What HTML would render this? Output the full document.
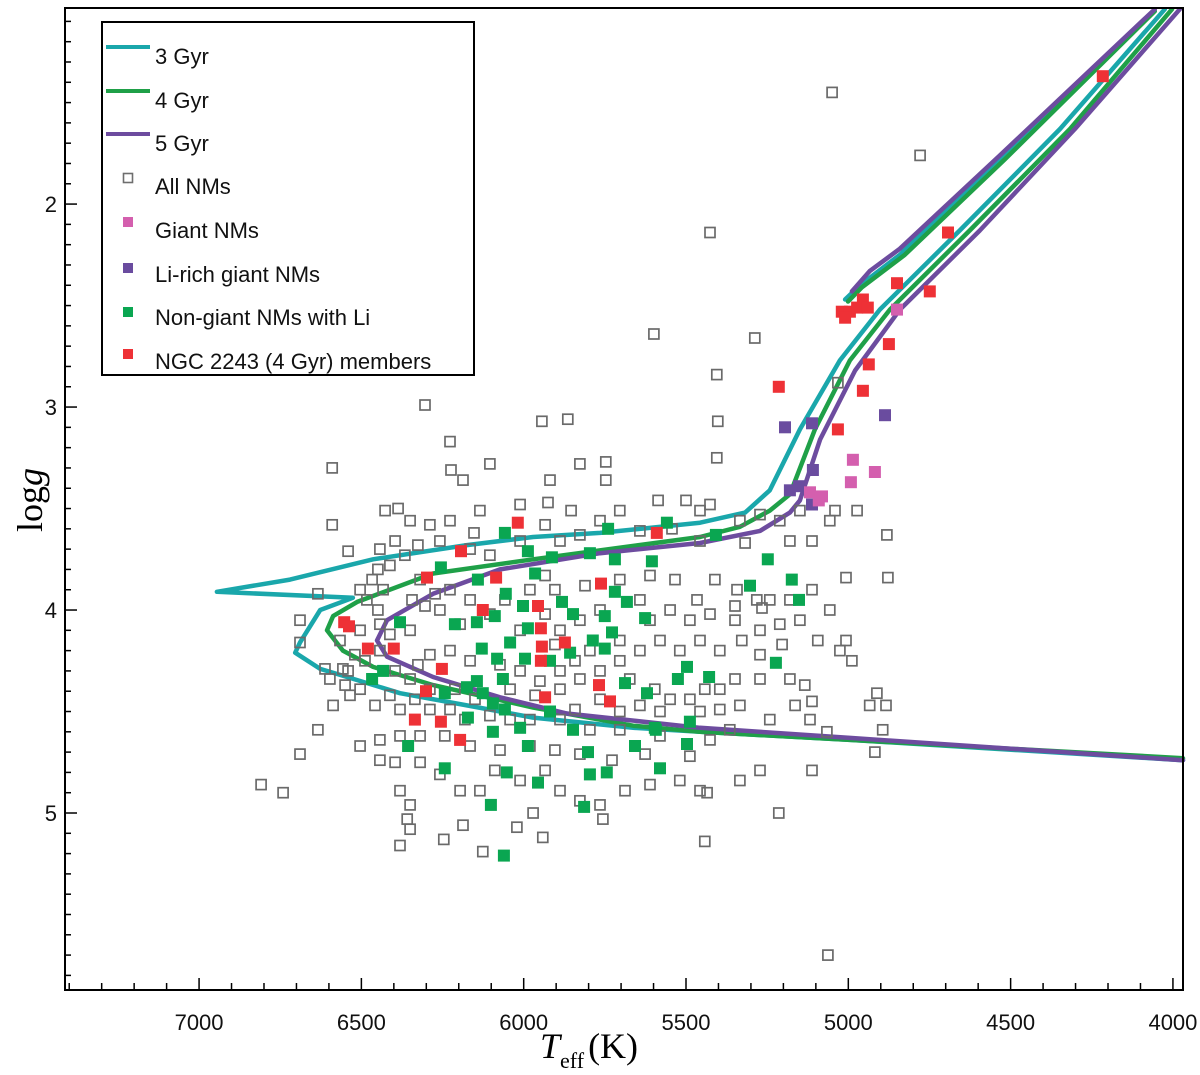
<!DOCTYPE html>
<html><head><meta charset="utf-8"><style>
html,body{margin:0;padding:0;background:#fff;}
svg{display:block;font-family:"Liberation Sans",sans-serif;}
</style></head><body>
<svg id="chart" width="1200" height="1075" viewBox="0 0 1200 1075" xmlns="http://www.w3.org/2000/svg"></svg>
<script>
// ---- data ----
const xTicks=[7000,6500,6000,5500,5000,4500,4000];
const yTicks=[2,3,4,5];
const allT=[5050,4779,5426,5599,5288,5405,5032,6304,5402,6227,5944,5864,6104,5827,5747,5405,6590,6224,6187,5919,5747,5586,5500,6590,6427,6387,6350,6289,6227,6135,6011,5925,5854,5765,5704,5457,5426,5334,5272,5211,5149,5041,5057,4881,6541,6443,6396,6326,6258,6153,5888,5827,5642,5543,5457,5180,5112,5318,4878,5007,6449,6412,6366,6467,6433,6504,6165,6104,6011,5934,6634,6689,6483,6449,6344,6304,6227,6165,6258,5934,5904,5811,5704,5611,5534,5411,5343,5282,5349,5466,5266,5112,5057,5007,5026,4989,5094,6689,6566,6443,6412,6350,6196,6104,6011,5934,5888,5827,5765,5642,5549,5488,5426,5349,5272,5211,5149,5396,5328,5272,5204,5457,5519,5580,5642,5704,5842,5888,5950,6011,6073,6165,6227,6289,6326,6396,6443,6520,6557,6612,6597,6550,6504,6458,6412,6381,6335,6289,6212,6150,6042,5965,5888,5827,5765,5673,5596,5549,5488,5442,5396,5349,5272,5180,5134,5112,5164,5334,5396,5457,5580,5642,5704,5765,5842,5888,5981,6042,6104,6181,6243,6319,6381,6443,6504,6443,6396,6319,6258,6196,6135,6089,6011,5934,5888,5827,5765,5688,5611,5519,5457,5334,5272,5112,4894,4884,4912,4934,5118,5242,5365,5426,5488,5626,5728,5827,5904,5981,6073,6165,6381,6350,6359,6350,6381,6246,6187,6021,5971,6126,5941,5756,5435,5442,5214,6809,6741,6689,6634,6587,6541,5063,5066,4918,4973,6319,6273,6058,5981,5704,5796,5904,5611,6504,6489,6350,6535,6289,6227,5796,5704,5580,5242,5180];
const allG=[1.45,1.76,2.14,2.64,2.66,2.84,2.88,2.99,3.07,3.17,3.07,3.06,3.28,3.28,3.27,3.25,3.30,3.31,3.36,3.36,3.36,3.46,3.46,3.58,3.51,3.50,3.56,3.58,3.56,3.51,3.48,3.47,3.51,3.56,3.51,3.51,3.48,3.56,3.53,3.56,3.51,3.51,3.56,3.63,3.71,3.70,3.66,3.68,3.66,3.62,3.66,3.63,3.61,3.60,3.66,3.66,3.66,3.67,3.84,3.84,3.80,3.78,3.73,3.85,3.90,3.90,3.70,3.73,3.66,3.58,3.92,4.05,3.95,4.00,3.95,3.98,3.90,3.95,4.00,3.83,3.90,3.88,3.85,3.83,3.85,3.85,3.90,3.95,3.98,3.95,3.99,3.90,4.00,4.15,4.20,4.25,4.15,4.16,4.15,4.07,4.12,4.10,4.07,4.02,4.10,4.02,4.10,4.05,4.00,3.95,4.00,4.05,4.02,4.05,4.10,4.07,4.05,4.20,4.15,4.22,4.17,4.15,4.20,4.15,4.20,4.25,4.25,4.30,4.35,4.30,4.27,4.25,4.20,4.22,4.27,4.30,4.20,4.22,4.29,4.29,4.34,4.37,4.39,4.47,4.42,4.49,4.44,4.39,4.39,4.44,4.39,4.42,4.39,4.34,4.30,4.34,4.39,4.44,4.44,4.39,4.39,4.34,4.34,4.34,4.37,4.45,4.47,4.47,4.49,4.50,4.50,4.47,4.50,4.44,4.49,4.54,4.54,4.54,4.52,4.54,4.62,4.62,4.62,4.64,4.67,4.74,4.75,4.75,4.81,4.89,4.89,4.79,4.84,4.79,4.89,4.94,4.96,4.89,4.86,4.84,4.89,4.84,4.79,4.79,4.59,4.47,4.41,4.47,4.54,4.54,4.59,4.64,4.72,4.71,4.74,4.71,4.69,4.67,4.69,4.67,4.89,4.96,5.03,5.08,5.16,5.13,5.06,5.07,5.00,5.19,5.12,5.03,4.90,5.14,5.00,4.86,4.90,4.71,4.59,4.47,4.30,5.70,4.60,4.70,3.51,3.85,3.92,3.95,3.90,4.15,4.20,4.17,4.05,4.10,4.25,4.34,4.42,4.49,4.49,4.59,4.59,4.62,3.95,3.95];
const greenT=[6058,5740,5559,5408,5987,5913,5796,5719,5605,6255,5965,6141,6055,5719,5882,5682,6002,5848,5750,5626,6381,6212,6144,6089,5987,5728,6042,5787,6129,5857,5750,5996,5919,6082,5497,6433,6467,5688,6144,5525,6064,6243,6175,6126,5620,6095,6058,6172,5919,6011,5848,5596,6095,5488,6356,5987,5657,5497,5802,6243,6052,5796,5744,5580,5956,6101,5814,6061,5248,5303,5174,5152,5429,5223,5593];
const greenG=[3.62,3.60,3.57,3.63,3.71,3.74,3.72,3.75,3.76,3.79,3.82,3.85,3.92,3.91,3.96,3.96,3.98,4.02,4.03,4.04,4.06,4.07,4.06,4.03,4.09,4.11,4.16,4.15,4.19,4.21,4.19,4.24,4.25,4.24,4.28,4.30,4.34,4.36,4.35,4.34,4.34,4.41,4.38,4.41,4.41,4.46,4.49,4.53,4.50,4.58,4.59,4.58,4.60,4.55,4.67,4.67,4.67,4.66,4.70,4.78,4.80,4.81,4.80,4.78,4.85,4.96,4.97,5.21,3.75,3.88,3.85,3.95,4.33,4.26,4.59];
const redT=[4216,4693,4850,4749,5020,4995,4973,4955,4940,5010,4875,4937,4955,5214,5032,6018,5590,6193,5762,6085,6298,6126,5956,5947,5944,5873,5947,5768,5934,6553,6538,6480,6400,6301,6252,6335,6255,6196,5734];
const redG=[1.37,2.14,2.39,2.43,2.53,2.53,2.51,2.47,2.51,2.56,2.69,2.79,2.92,2.90,3.11,3.57,3.62,3.71,3.87,3.84,3.84,4.00,3.98,4.09,4.18,4.16,4.25,4.37,4.43,4.06,4.08,4.19,4.19,4.40,4.29,4.54,4.55,4.64,4.45];
const purpleT=[5195,5112,4887,5109,5180,5152,5112];
const purpleG=[3.10,3.08,3.04,3.31,3.41,3.39,3.48];
const pinkT=[4850,4986,4918,4992,5118,5081,5091];
const pinkG=[2.52,3.26,3.32,3.37,3.42,3.44,3.46];
const iso3T=[4025,4348,4657,4903,5026,5149,5242,5318,5457,5765,5971,6175,6464,6720,6945,6526,6627,6689,6704,6627,6544,6381,6175,5971,5663,5457,4995,3969];
const iso3G=[1.04,1.63,2.13,2.52,2.77,3.11,3.41,3.52,3.57,3.62,3.64,3.68,3.75,3.85,3.91,3.94,4.00,4.16,4.21,4.29,4.33,4.41,4.47,4.53,4.58,4.60,4.64,4.74];
const agb3T=[5010,4964,4841,4533,4071];
const agb3G=[2.47,2.40,2.25,1.78,1.07];
const iso4T=[4003,4317,4626,4872,4995,5103,5180,5242,5334,5457,5971,6279,6513,6587,6606,6557,6464,6279,5971,5663,5457,4995,3969];
const iso4G=[1.04,1.63,2.13,2.52,2.77,3.11,3.43,3.51,3.59,3.64,3.75,3.82,3.96,4.03,4.10,4.20,4.28,4.37,4.48,4.57,4.60,4.64,4.73];
const agb4T=[5001,4958,4826,4518,4056];
const agb4G=[2.48,2.41,2.25,1.78,1.05];
const iso5T=[3979,4302,4595,4841,4979,5087,5149,5180,5272,5457,5765,6073,6279,6421,6452,6421,6279,6073,5867,5457,4995,3969];
const iso5G=[1.04,1.63,2.13,2.52,2.82,3.16,3.46,3.52,3.61,3.67,3.72,3.80,3.92,4.05,4.15,4.23,4.33,4.43,4.51,4.58,4.63,4.74];
const agb5T=[4989,4934,4841,4533,4056];
const agb5G=[2.43,2.33,2.22,1.76,1.04];

// ---- axes ----
const L=65,R=1183,T0=8,B=990;
const xMin=7413,xMax=3969,yMin=1.034,yMax=5.872;
function sx(t){return L+(xMin-t)/(xMin-xMax)*(R-L);}
function sy(g){return T0+(g-yMin)/(yMax-yMin)*(B-T0);}
const NS="http://www.w3.org/2000/svg";
const svg=document.getElementById('chart');
function mk(tag,attrs,parent){const e=document.createElementNS(NS,tag);for(const k in attrs)e.setAttribute(k,attrs[k]);(parent||svg).appendChild(e);return e;}

const gIso=mk('g',{});


const gPts=mk('g',{});



function line(ts,gs,color,name){
  const d=ts.map((t,i)=>(i?'L':'M')+sx(t).toFixed(1)+','+sy(gs[i]).toFixed(1)).join(' ');
  const p=mk('path',{d:d,fill:'none',stroke:color,'stroke-width':4.5,'stroke-linejoin':'round','stroke-linecap':'round'},gIso);
  
  
}
function squares(ts,gs,fill,stroke,size,name){
  ts.forEach((t,i)=>{
    const r=mk('rect',{x:(sx(t)-size/2).toFixed(1),y:(sy(gs[i])-size/2).toFixed(1),width:size,height:size,fill:fill,stroke:stroke,'stroke-width':stroke==='none'?0:1.7},gPts);
    
    
  });
}
squares(allT,allG,'none','#6a6a6a',10,'all-nm-point');
line(iso3T,iso3G,'#1aa7ab','isochrone-3gyr');
line(agb3T,agb3G,'#1aa7ab','isochrone-3gyr-clump');
line(iso4T,iso4G,'#1fa048','isochrone-4gyr');
line(agb4T,agb4G,'#1fa048','isochrone-4gyr-clump');
line(iso5T,iso5G,'#6d4c9f','isochrone-5gyr');
line(agb5T,agb5G,'#6d4c9f','isochrone-5gyr-clump');
squares(greenT,greenG,'#0aa651','none',12,'non-giant-li-point');
squares(redT,redG,'#ee3136','none',12,'ngc2243-member-point');
squares(purpleT,purpleG,'#6a4c9f','none',12,'li-rich-giant-point');
squares(pinkT,pinkG,'#d45fae','none',12,'giant-nm-point');

// frame
const fr=mk('rect',{x:L,y:T0,width:R-L,height:B-T0,fill:'none',stroke:'#000','stroke-width':2});


// x ticks
const gx=mk('g',{});


for(let t=7400;t>=4000;t-=100){
  const major=t%500===0;
  mk('line',{x1:sx(t),x2:sx(t),y1:B,y2:B-(major?12:7),stroke:'#000','stroke-width':1.5},gx);
}
xTicks.forEach(t=>{
  const tx=mk('text',{x:sx(t),y:B+40,'text-anchor':'middle','font-size':22,fill:'#111'},gx);
  tx.textContent=t;
  
  
});
// y ticks
const gy=mk('g',{});


for(let k=11;k<=58;k++){
  const g=k/10;const major=k%10===0;
  mk('line',{x1:L,x2:L+(major?12:6),y1:sy(g),y2:sy(g),stroke:'#000','stroke-width':1.5},gy);
}
yTicks.forEach(g=>{
  const tx=mk('text',{x:L-8,y:sy(g)+8,'text-anchor':'end','font-size':22,fill:'#111'},gy);
  tx.textContent=g;
  
  
});
</script>
<svg style="position:absolute;left:0;top:0" width="1200" height="1075">
  <text x="540" y="1058" font-family="Liberation Serif,serif" font-size="36"><tspan font-style="italic">T</tspan><tspan font-size="22" dy="10">eff</tspan><tspan dy="-10" dx="4">(K)</tspan></text>
  <text transform="translate(42,500) rotate(-90)" text-anchor="middle" font-family="Liberation Serif,serif" font-size="36">log<tspan font-style="italic">g</tspan></text>
  <g font-family="Liberation Sans,sans-serif" font-size="22" fill="#111">
    <rect x="102" y="22" width="372" height="353" fill="#fff" stroke="#000" stroke-width="2"/>
    <line x1="106" y1="47" x2="150" y2="47" stroke="#1aa7ab" stroke-width="4"/>
    <text x="155" y="64">3 Gyr</text>
    <line x1="106" y1="91" x2="150" y2="91" stroke="#1fa048" stroke-width="4"/>
    <text x="155" y="108">4 Gyr</text>
    <line x1="106" y1="134" x2="150" y2="134" stroke="#6d4c9f" stroke-width="4"/>
    <text x="155" y="151">5 Gyr</text>
    <rect x="123.5" y="173.5" width="9" height="9" fill="none" stroke="#6e6e6e" stroke-width="1.6"/>
    <text x="155" y="194">All NMs</text>
    <rect x="123" y="217" width="10" height="10" fill="#d45fae"/>
    <text x="155" y="238">Giant NMs</text>
    <rect x="123" y="263" width="10" height="10" fill="#6a4c9f"/>
    <text x="155" y="282">Li-rich giant NMs</text>
    <rect x="123" y="307" width="10" height="10" fill="#0aa651"/>
    <text x="155" y="325">Non-giant NMs with Li</text>
    <rect x="123" y="349" width="10" height="10" fill="#ee3136"/>
    <text x="155" y="369">NGC 2243 (4 Gyr) members</text>
  </g>
</svg>
</body></html>
